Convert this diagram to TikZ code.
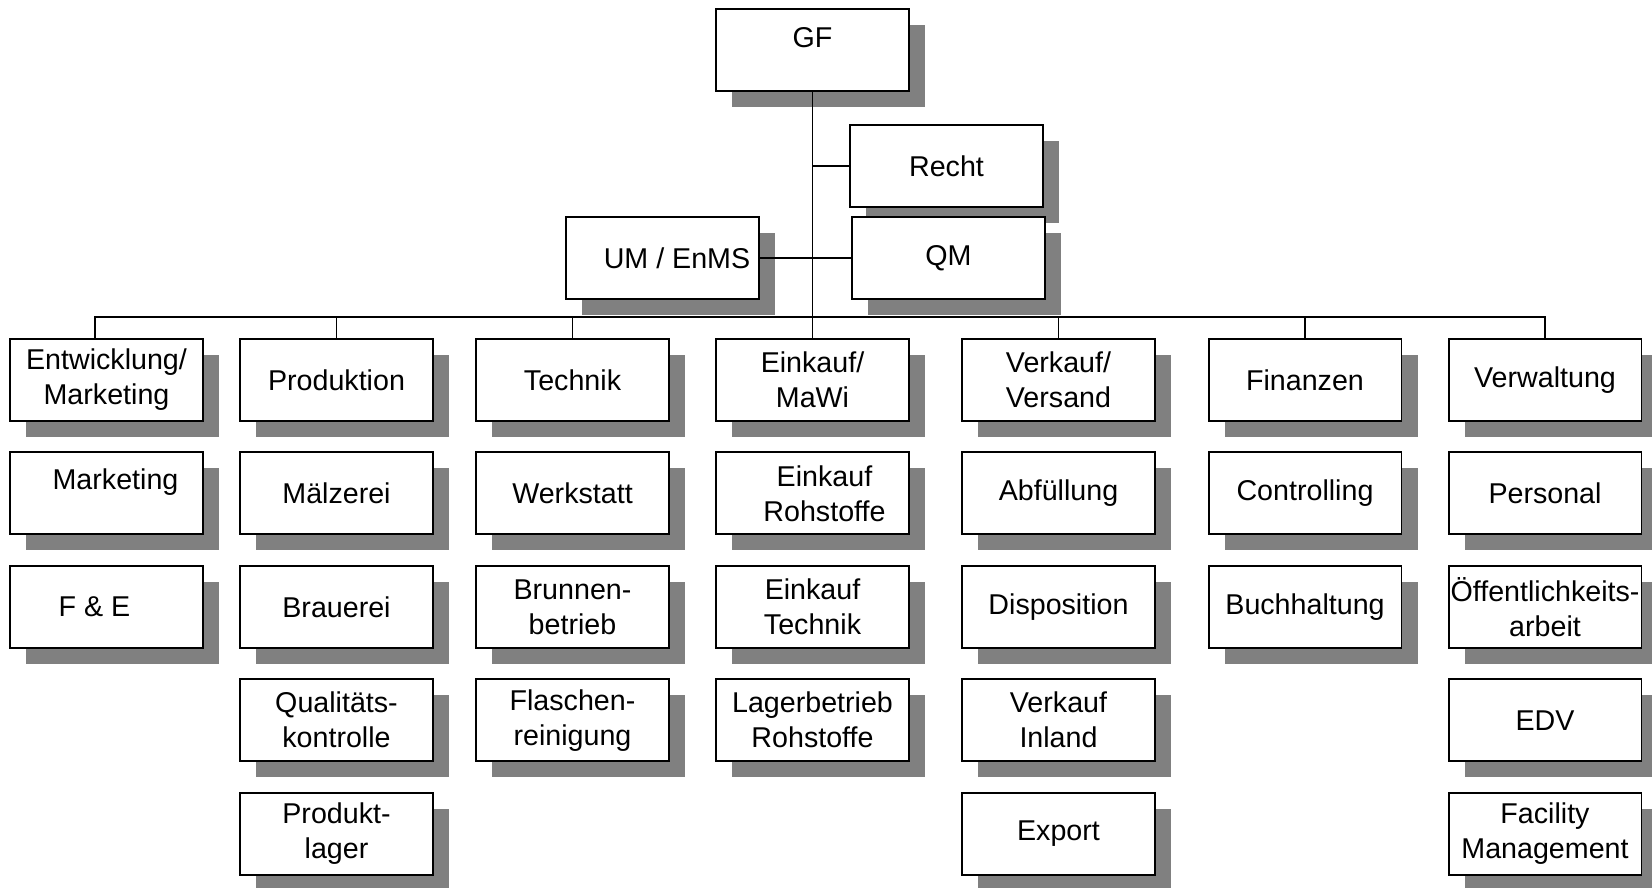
\documentclass[tikz,border=0pt]{standalone}
\usepackage{fontspec}
\setmainfont{Liberation Sans}
\usetikzlibrary{positioning, shadows}

\begin{document}
\begin{tikzpicture}
  [x=0.02cm, y=-0.02cm, node distance=0.59cm,
orgbox/.style={rectangle,draw=black,fill=white,line width=1.1pt,minimum width=3.86cm,minimum height=1.64cm,inner sep=0pt,align=center,font=\fontsize{16.3pt}{19.9pt}\selectfont,
  drop shadow={shadow xshift=0.32cm,shadow yshift=-0.32cm,fill=black!50,opacity=1}},
link/.style={line width=1.1pt}]

  \useasboundingbox (0,0) rectangle (1652,888);

  % Leitung und Stabsstellen
  \node[orgbox] (gf)    at (812.5,50)  {\raisebox{0.48cm}{GF}};
  \node[orgbox] (recht) at (946.5,166) {Recht};
  \node[orgbox] (qm)    at (948.5,258) {QM};
  \node[orgbox] (um)    at (662.5,258) {\hspace*{0.58cm}UM / EnMS};

  % Bereiche
  \node[orgbox] (ent)  at (106.5,380)  {Entwicklung/\\Marketing};
  \node[orgbox] (prod) at (336.5,380)  {Produktion};
  \node[orgbox] (tech) at (572.5,380)  {Technik};
  \node[orgbox] (ek)   at (812.5,380)  {Einkauf/\\MaWi};
  \node[orgbox] (vv)   at (1058.5,380) {Verkauf/\\Versand};
  \node[orgbox] (fin)  at (1305,380)   {Finanzen};
  \node[orgbox] (vw)   at (1545,380)   {Verwaltung};

  % Abteilungen
  \node[orgbox] (mkt) [below=of ent]  {\hspace*{0.36cm}\raisebox{0.56cm}{Marketing}};
  \node[orgbox] (fe)  [below=of mkt]  {F \& E\hspace*{0.48cm}};

  \node[orgbox] (mz)  [below=of prod] {Mälzerei};
  \node[orgbox] (br)  [below=of mz]   {\raisebox{-0.36cm}{Brauerei}};
  \node[orgbox] (qk)  [below=of br]   {Qualitäts-\\kontrolle};
  \node[orgbox] (pl)  [below=of qk]   {Produkt-\\lager};

  \node[orgbox] (ws)  [below=of tech] {Werkstatt};
  \node[orgbox] (bb)  [below=of ws]   {Brunnen-\\betrieb};
  \node[orgbox] (fr)  [below=of bb]   {Flaschen-\\reinigung};

  \node[orgbox] (ekr) [below=of ek]   {\hspace*{0.48cm}Einkauf\\\hspace*{0.48cm}Rohstoffe};
  \node[orgbox] (ekt) [below=of ekr]  {Einkauf\\Technik};
  \node[orgbox] (lr)  [below=of ekt]  {Lagerbetrieb\\Rohstoffe};

  \node[orgbox] (abf) [below=of vv]   {Abfüllung};
  \node[orgbox] (dis) [below=of abf]  {Disposition};
  \node[orgbox] (vi)  [below=of dis]  {Verkauf\\Inland};
  \node[orgbox] (exp) [below=of vi]   {Export};

  \node[orgbox] (con) [below=of fin]  {Controlling};
  \node[orgbox] (bh)  [below=of con]  {Buchhaltung};

  \node[orgbox] (per) [below=of vw]   {Personal};
  \node[orgbox] (oa)  [below=of per]  {Öffentlichkeits-\\arbeit};
  \node[orgbox] (edv) [below=of oa]   {EDV};
  \node[orgbox] (fm)  [below=of edv]  {Facility\\Management};

  % Linien
  \coordinate (bus) at (808,317);
  \draw[link] (gf.south) -- (ek.north);
  \draw[link] (gf.south |- recht.west) -- (recht.west);
  \draw[link] (um.east) -- (qm.west);
  \draw[link] ([xshift=-0.23cm]ent.north) -- ([xshift=-0.23cm]ent.north |- bus) -- (vw.north |- bus) -- (vw.north);
  \foreach \n in {prod,tech,vv,fin}
    \draw[link] (\n.north) -- (\n.north |- bus);

\end{tikzpicture}
\end{document}
